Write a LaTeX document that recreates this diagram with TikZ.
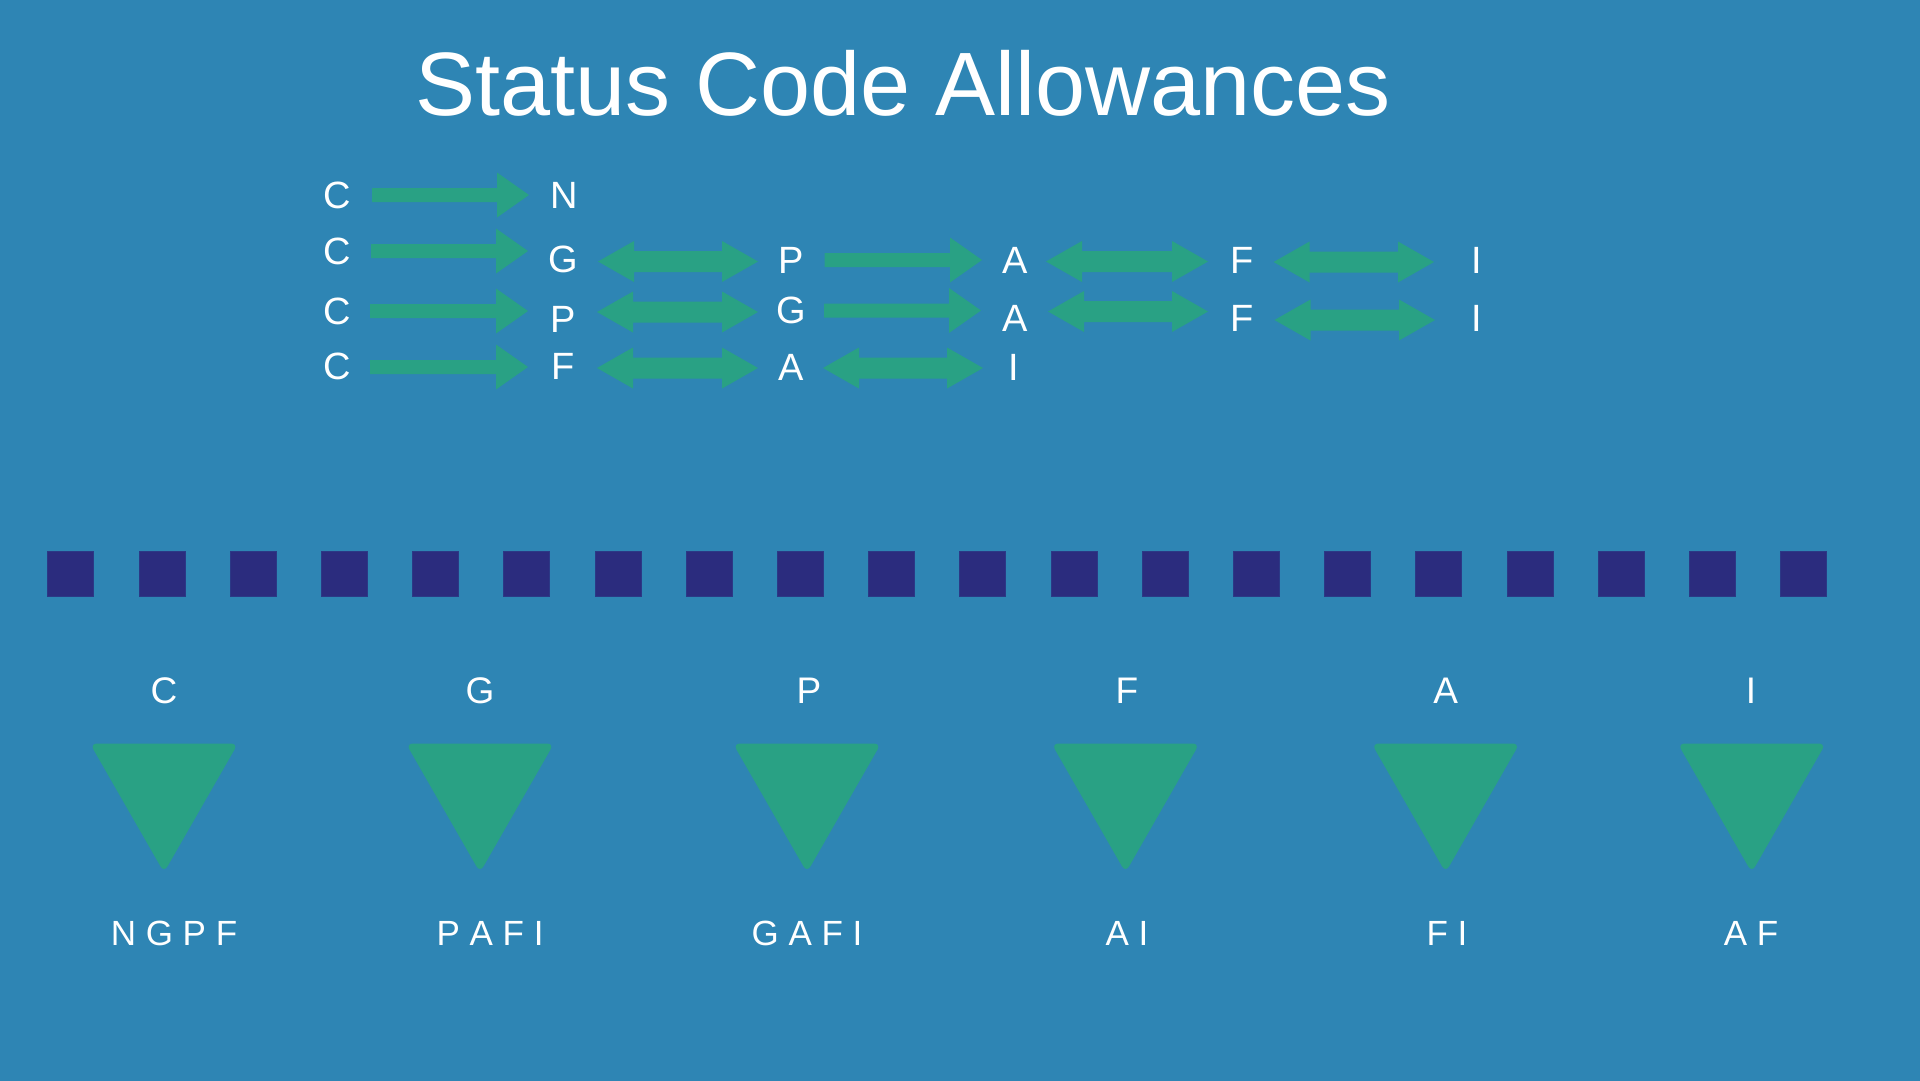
\documentclass[tikz,border=0pt]{standalone}
\usepackage{fontspec}
\setmainfont{Liberation Sans}
\definecolor{bgblue}{HTML}{2E85B4}
\definecolor{agreen}{HTML}{29A184}
\definecolor{navy}{HTML}{2B2C7E}
\newcommand{\BlockR}[3]{% x0, xtip, y
  \fill[arr] (#1,#3-7) -- (#2-32,#3-7) -- (#2-32,#3-22.5) -- (#2,#3) -- (#2-32,#3+22.5) -- (#2-32,#3+7) -- (#1,#3+7) -- cycle;}
\newcommand{\BlockLR}[3]{% x0, x1, y
  \fill[arr] (#1,#3) -- (#1+36,#3-20.5) -- (#1+36,#3-10.5) -- (#2-36,#3-10.5) -- (#2-36,#3-20.5) -- (#2,#3) -- (#2-36,#3+20.5) -- (#2-36,#3+10.5) -- (#1+36,#3+10.5) -- (#1+36,#3+20.5) -- cycle;}
\newcommand{\DownTri}[2]{% name, center x
  \fill[tri] (#2,743.5) -- (#2+74,743.5) -- (#2,872.5) -- (#2-74,743.5) -- cycle;
  \coordinate (#1) at (#2,800);}
\begin{document}
\begin{tikzpicture}[x=1pt,y=-1pt,
  arr/.style={fill=agreen},
  tri/.style={fill=agreen, rounded corners=7pt},
  sq/.style={fill=navy, draw=navy!85!bgblue, line width=0.8pt},
  lbl/.style={text=white, inner sep=0pt, anchor=base, font=\fontsize{38}{40}\selectfont},
  blbl/.style={text=white, inner sep=0pt, anchor=base, font=\fontsize{37}{40}\selectfont},
  word/.style={text=white, inner sep=0pt, anchor=base, font=\fontsize{35}{40}\selectfont},
  title/.style={text=white, inner sep=0pt, anchor=base, font=\fontsize{90}{100}\selectfont}]
\useasboundingbox (0,0) rectangle (1920,1080);
\fill[bgblue] (-10,-10) rectangle (1930,1090);
% title
\node[title] (title) at (903,115) {Status Code Allowances};
% row 1
\node[lbl] (r1c) at (337,208.6) {C};
\node[lbl] (r1n) at (564,208.6) {N};
\BlockR{372}{529}{195}
% row 2
\node[lbl] (r2c) at (337,264.1) {C};
\node[lbl] (r2g) at (563,272.1) {G};
\node[lbl] (r2p) at (791,273.6) {P};
\node[lbl] (r2a) at (1015,273.6) {A};
\node[lbl] (r2f) at (1242,273.6) {F};
\node[lbl] (r2i) at (1477,273.6) {I};
\BlockR{371}{528}{251}
\BlockLR{598}{758}{261.5}
\BlockR{824.5}{982}{260}
\BlockLR{1046}{1208}{261.5}
\BlockLR{1273.6}{1434}{262}
% row 3
\node[lbl] (r3c) at (337,324.6) {C};
\node[lbl] (r3p) at (563,332.6) {P};
\node[lbl] (r3g) at (791,323.6) {G};
\node[lbl] (r3a) at (1015,331.1) {A};
\node[lbl] (r3f) at (1242,331.6) {F};
\node[lbl] (r3i) at (1477,331.6) {I};
\BlockR{370}{528}{311}
\BlockLR{597}{758}{312}
\BlockR{824}{981}{310.5}
\BlockLR{1048}{1208}{311.5}
\BlockLR{1274.5}{1435}{320}
% row 4
\node[lbl] (r4c) at (337,379.6) {C};
\node[lbl] (r4f) at (563,379.6) {F};
\node[lbl] (r4a) at (791,380.6) {A};
\node[lbl] (r4i) at (1014,380.6) {I};
\BlockR{370}{528}{367}
\BlockLR{597}{758}{368}
\BlockLR{823}{983}{368}
% squares
\foreach \k in {0,...,19}{
  \fill[sq] ({47.8+91.2*\k},551) rectangle ++(46,45);
}
% bottom columns
\node[blbl] (bc) at (164,703.3) {C};
\node[blbl] (bg) at (480,703.3) {G};
\node[blbl] (bp) at (809,703.3) {P};
\node[blbl] (bf) at (1127,703.3) {F};
\node[blbl] (ba) at (1445.6,703.3) {A};
\node[blbl] (bi) at (1751,703.3) {I};
\DownTri{t1}{164}
\DownTri{t2}{480}
\DownTri{t3}{807}
\DownTri{t4}{1125.5}
\DownTri{t5}{1445.6}
\DownTri{t6}{1751.7}
\node[word] (w1) at (174,945.5) {N G P F};
\node[word] (w2) at (490,945.5) {P A F I};
\node[word] (w3) at (807,945.5) {G A F I};
\node[word] (w4) at (1127,945.5) {A I};
\node[word] (w5) at (1447,945.5) {F I};
\node[word] (w6) at (1751,945.5) {A F};
\end{tikzpicture}
\end{document}
